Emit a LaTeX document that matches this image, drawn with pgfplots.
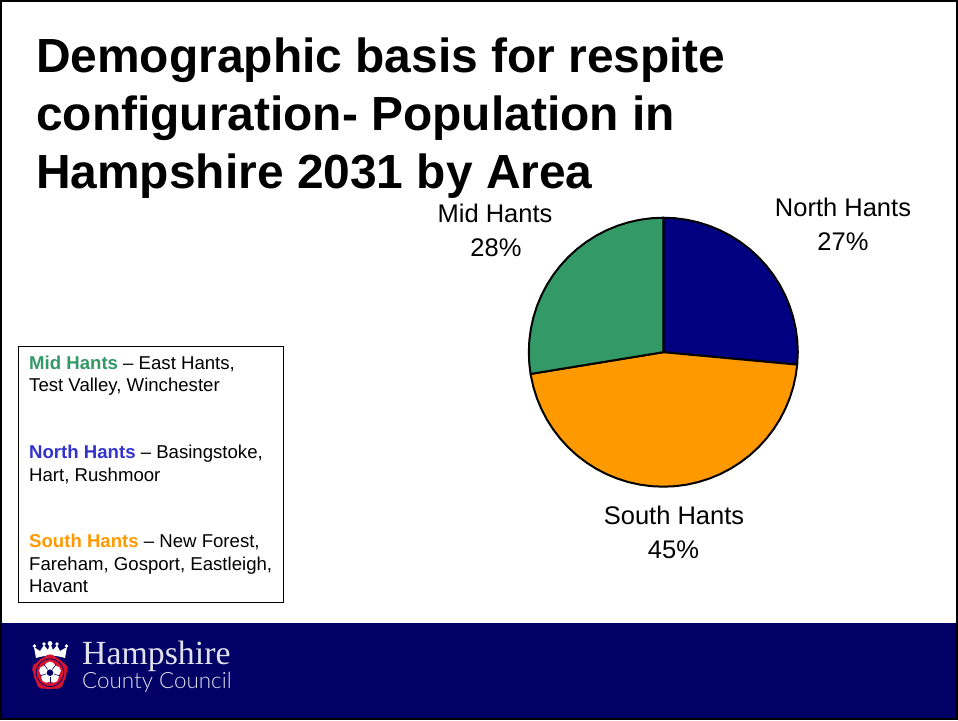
\documentclass[border=0pt]{standalone}
\usepackage{fontspec}
\usepackage{pgfplots}
\pgfplotsset{compat=1.18}
\usepgfplotslibrary{polar}
\setmainfont{Liberation Sans}
\newfontfamily\hampserif{Liberation Serif}
\newfontfamily\hampsans{Lato Light}
\definecolor{navyfoot}{RGB}{0,0,102}
\definecolor{northcol}{RGB}{0,0,128}
\definecolor{southcol}{RGB}{255,153,0}
\definecolor{midcol}{RGB}{51,153,102}
\definecolor{northtxt}{RGB}{51,51,204}
\definecolor{rosered}{RGB}{214,20,50}
\definecolor{footwhite}{RGB}{225,225,235}
\newcommand{\fs}[2]{\fontsize{#1}{#2}\selectfont}

\begin{document}
\begin{tikzpicture}
\useasboundingbox (0pt,0pt) rectangle (958pt,-720pt);

% page and footer band
\begin{scope}[x=1pt,y=-1pt]
  \fill[white] (0,0) rectangle (958,720);
  \fill[navyfoot] (0,623) rectangle (958,720);
  \draw[black,line width=2pt] (1,1) rectangle (957,719);
\end{scope}

% pie, angles in degrees
\begin{polaraxis}[
    at={(663.3pt,-352.2pt)}, anchor=center,
    scale only axis, width=269pt, height=269pt,
    xmin=0, xmax=360, ymin=0, ymax=1,
    hide axis, clip=false,
  ]
  \addplot[draw=black, line width=2pt, fill=northcol, line join=round] coordinates {
    (0,0) (90,1) (85,1) (80,1) (75,1) (70,1) (65,1) (60,1) (55,1) (50,1) (45,1)
    (40,1) (35,1) (30,1) (25,1) (20,1) (15,1) (10,1) (5,1) (0,1) (-5.3,1)
  } --cycle;
  \addplot[draw=black, line width=2pt, fill=southcol, line join=round] coordinates {
    (0,0) (-5.3,1) (-10,1) (-15,1) (-20,1) (-25,1) (-30,1) (-35,1) (-40,1) (-45,1)
    (-50,1) (-55,1) (-60,1) (-65,1) (-70,1) (-75,1) (-80,1) (-85,1) (-90,1) (-95,1)
    (-100,1) (-105,1) (-110,1) (-115,1) (-120,1) (-125,1) (-130,1) (-135,1) (-140,1)
    (-145,1) (-150,1) (-155,1) (-160,1) (-165,1) (-170,1) (-170.7,1)
  } --cycle;
  \addplot[draw=black, line width=2pt, fill=midcol, line join=round] coordinates {
    (0,0) (189.3,1) (185,1) (180,1) (175,1) (170,1) (165,1) (160,1) (155,1) (150,1)
    (145,1) (140,1) (135,1) (130,1) (125,1) (120,1) (115,1) (110,1) (105,1) (100,1)
    (95,1) (90,1)
  } --cycle;
\end{polaraxis}

\begin{scope}[x=1pt,y=-1pt]
  % title
  \node[anchor=base west,inner sep=0pt] at (36,72) {\fs{47.9}{54}\bfseries Demographic basis for respite};
  \node[anchor=base west,inner sep=0pt] at (36,130) {\fs{47.9}{54}\bfseries configuration- Population in};
  \node[anchor=base west,inner sep=0pt] at (36,188) {\fs{47.9}{54}\bfseries Hampshire 2031 by Area};

  % pie labels
  \node[anchor=base,inner sep=0pt] at (495,222.5) {\fs{25.5}{28}Mid Hants};
  \node[anchor=base,inner sep=0pt] at (496,256) {\fs{25.5}{28}28\%};
  \node[anchor=base,inner sep=0pt] at (843,216) {\fs{25.5}{28}North Hants};
  \node[anchor=base,inner sep=0pt] at (843,250.5) {\fs{25.5}{28}27\%};
  \node[anchor=base,inner sep=0pt] at (674,524) {\fs{25.5}{28}South Hants};
  \node[anchor=base,inner sep=0pt] at (673.5,558) {\fs{25.5}{28}45\%};

  % area key
  \draw[black,line width=1pt] (18,346) rectangle (283.5,602);
  \node[anchor=base west,inner sep=0pt] at (29,369) {\fs{18.6}{22}\textcolor{midcol}{\bfseries Mid Hants} -- East Hants,};
  \node[anchor=base west,inner sep=0pt] at (29,391.5) {\fs{18.6}{22}Test Valley, Winchester};
  \node[anchor=base west,inner sep=0pt] at (29,458) {\fs{18.6}{22}\textcolor{northtxt}{\bfseries North Hants} -- Basingstoke,};
  \node[anchor=base west,inner sep=0pt] at (29,481) {\fs{18.6}{22}Hart, Rushmoor};
  \node[anchor=base west,inner sep=0pt] at (29,547) {\fs{18.6}{22}\textcolor{southcol}{\bfseries South Hants} -- New Forest,};
  \node[anchor=base west,inner sep=0pt] at (29,570) {\fs{18.6}{22}Fareham, Gosport, Eastleigh,};
  \node[anchor=base west,inner sep=0pt] at (29,592.5) {\fs{18.6}{22}Havant};

  % council name
  \node[anchor=base west,inner sep=0pt,text=footwhite] at (82,664.5) {\fs{33.8}{36}\hampserif Hampshire};
  \node[anchor=base west,inner sep=0pt,text=footwhite] at (82,688.5) {\fs{22.4}{26}\hampsans County Council};

  % crest: crown
  \fill[white] (36,658) -- (34,647) -- (40,651) -- (44,645) -- (48,650) -- (50,643)
    -- (53,650) -- (57,645) -- (60,651) -- (67,647) -- (65,658)
    .. controls (56,655) and (45,655) .. cycle;
  \fill[white] (34.5,646) circle (1.8) (44,644) circle (1.8) (50,643.5) circle (2.4)
    (57,644) circle (1.8) (66.5,646) circle (1.8);
  % crest: rose
  \fill[rosered] (50,672.7) circle (16.5);
  \foreach \a in {90,162,234,306,18} {
    \fill[rosered] (50,672.7) ++(\a:-11.5) circle (6.8);
  }
  \draw[navyfoot,line width=0.8pt] (50,672.7) circle (13.8);
  \fill[white] (50,672.7) circle (9.5);
  \foreach \a in {90,162,234,306,18} {
    \fill[white] (50,672.7) ++(\a:-6.2) circle (5);
  }
  \foreach \a in {126,198,270,342,54} {
    \draw[navyfoot,line width=0.6pt] (50,672.7) ++(\a:-4) -- ++(\a:-6);
  }
  \fill[navyfoot] (50,672.7) circle (3.3);
\end{scope}
\end{tikzpicture}
\end{document}
